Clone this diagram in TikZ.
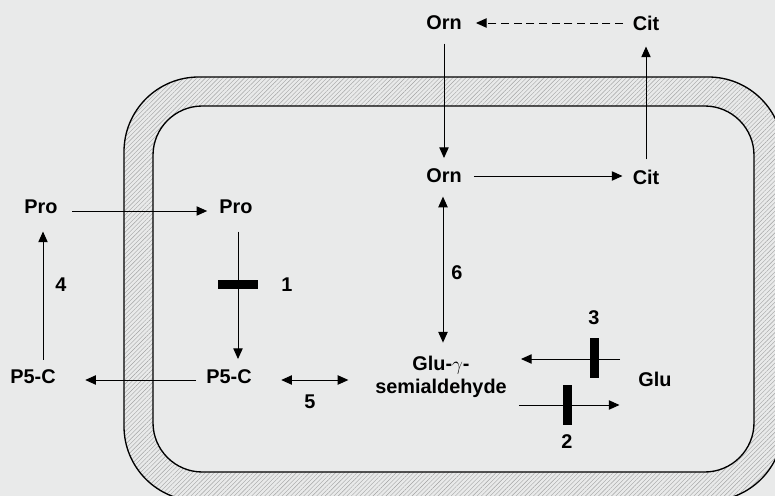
\documentclass[tikz,border=0pt]{standalone}
\usepackage{fontspec}
\setmainfont{Liberation Sans}
\usetikzlibrary{arrows.meta,calc,patterns.meta}
\definecolor{paper}{HTML}{E9EAEA}
\definecolor{hatch}{HTML}{A2A2A2}

\begin{document}
\begin{tikzpicture}[
  x=0.75pt, y=-0.75pt,
  font=\fontsize{14.9}{17.3}\selectfont\bfseries,
  metab/.style={inner sep=0pt, align=center},
  num/.style={inner sep=0pt},
  flux/.style={-{Triangle[length=8pt,width=7pt]}, line width=0.75pt},
  both/.style={{Triangle[length=8pt,width=7pt]}-{Triangle[length=8pt,width=7pt]}, line width=0.75pt},
  hbar/.style={fill=black, inner sep=0pt, minimum width=30pt, minimum height=6.75pt},
  vbar/.style={fill=black, inner sep=0pt, minimum width=6.75pt, minimum height=30pt}
]
\useasboundingbox (0,0) rectangle (775,496);
\fill[paper] (0,0) rectangle (775,496);
\clip (0,0) rectangle (775,496);

% membrane
\draw[line width=1pt, rounded corners=56pt,
  pattern={Lines[angle=45,distance=2.3pt,line width=0.3pt]}, pattern color=hatch]
  (124,77) rectangle (783,501);
\draw[line width=1pt, rounded corners=37pt, fill=paper] (153,106) rectangle (754,472);

% metabolites
\node[metab] (orntop) at (444,23) {Orn};
\node[metab] (cittop) at (646,23) {Cit};
\node[metab] (ornin) at (444,176) {Orn};
\node[metab] (citin) at (646,177) {Cit};
\node[metab] (proout) at (41,207) {Pro};
\node[metab] (proin) at (236,207) {Pro};
\node[metab] (p5cout) at (33,377) {P5-C};
\node[metab] (p5cin) at (229,377) {P5-C};
\node[metab] (gsa) at (441,377) {Glu-$\gamma$-\\semialdehyde};
\node[metab] (glu) at (655,379) {Glu};

% fluxes
\draw[flux, dash pattern=on 6pt off 3.5pt, shorten <=7pt, shorten >=10.5pt] (cittop.west) -- (orntop.east);
\draw[flux, shorten <=10pt, shorten >=8pt] (orntop.south) -- (ornin.north);
\draw[flux, shorten <=9pt, shorten >=7.5pt] (ornin.east) -- (ornin.east -| citin.west);
\draw[flux, shorten <=7.5pt, shorten >=12pt] (citin.north) -- (cittop.south);
\draw[flux, shorten <=11pt, shorten >=9pt] ($(proout.east)+(0,4)$) -- ($(proin.west)+(0,4)$);
\draw[flux, shorten <=13pt, shorten >=8pt] ($(proin.south)+(2,0)$) -- ($(proin.south |- p5cin.north)+(2,0)$);
\draw[flux, shorten <=7.5pt, shorten >=22pt] ($(p5cin.west)+(0,3)$) -- ($(p5cout.east)+(0,3)$);
\draw[flux, shorten <=7.5pt, shorten >=13pt] ($(p5cout.north -| proout.south)+(2,0)$) -- ($(proout.south)+(2,0)$);
\draw[both, shorten <=22pt, shorten >=20pt] ($(p5cin.east)+(0,3)$) -- ($(p5cin.east -| gsa.west)+(0,3)$);
\draw[both, shorten <=10pt, shorten >=10pt] ($(ornin.south)+(-1,0)$) -- ($(ornin.south |- gsa.north)+(-1,0)$);
\draw[flux, shorten <=13.5pt, shorten >=10.5pt] ($(glu.west)+(0,-20)$) -- ($(gsa.east |- glu.west)+(0,-20)$);
\draw[flux, shorten <=9pt, shorten >=14pt] ($(gsa.east |- glu.west)+(0,26)$) -- ($(glu.west)+(0,26)$);

% blocks
\node[hbar] (bar1) at (238,284) {};
\node[vbar] (bar3) at (594,358) {};
\node[vbar] (bar2) at (567,405) {};

% step numbers
\node[num] (n1) at (287,285) {1};
\node[num] (n2) at (567,442) {2};
\node[num] (n3) at (594,318) {3};
\node[num] (n4) at (61,285) {4};
\node[num] (n5) at (310,402) {5};
\node[num] (n6) at (457,273) {6};
\end{tikzpicture}
\end{document}
